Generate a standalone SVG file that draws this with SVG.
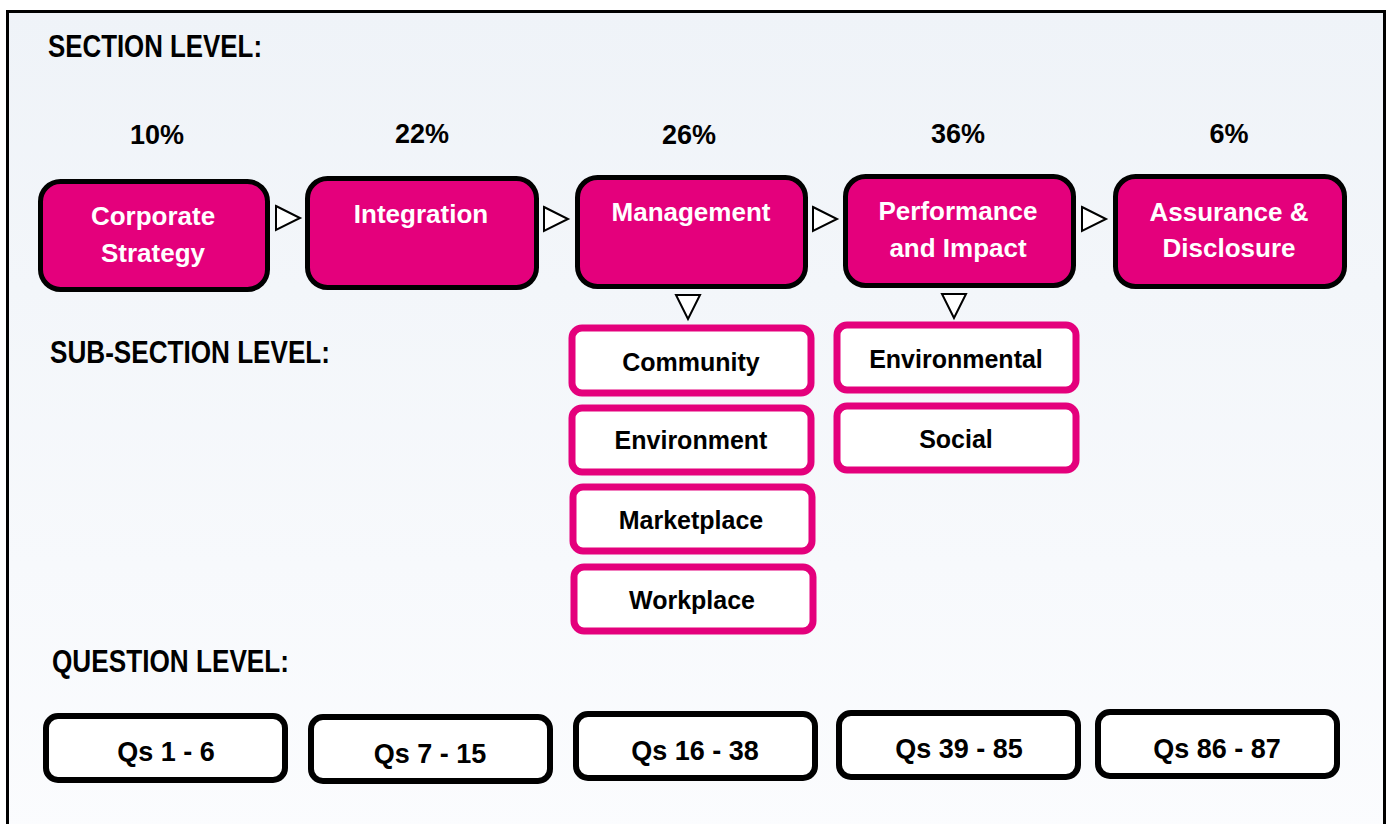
<svg xmlns="http://www.w3.org/2000/svg" width="1388" height="824" viewBox="0 0 1388 824">
<defs>
<linearGradient id="bg" x1="0" y1="0" x2="0" y2="1">
<stop offset="0" stop-color="#eff3f8"/>
<stop offset="1" stop-color="#fbfcfe"/>
</linearGradient>
<style>
.sec{fill:#e4007c;stroke:#000;stroke-width:5}
.sub{fill:#fff;stroke:#e4007c;stroke-width:7}
.q{fill:#fff;stroke:#000;stroke-width:6}
.tri{fill:#fff;stroke:#000;stroke-width:2;stroke-linejoin:miter}
.lvl{font-family:"Liberation Sans",Arial,sans-serif;font-weight:bold;font-size:31px;fill:#000}
.pct{font-family:"Liberation Sans",Arial,sans-serif;font-weight:bold;font-size:27px;fill:#000;text-anchor:middle}
.wt{font-family:"Liberation Sans",Arial,sans-serif;font-weight:bold;font-size:26px;fill:#fff;text-anchor:middle}
.bt{font-family:"Liberation Sans",Arial,sans-serif;font-weight:bold;font-size:25px;fill:#000;text-anchor:middle}
.qt{font-family:"Liberation Sans",Arial,sans-serif;font-weight:bold;font-size:27px;fill:#000;text-anchor:middle}
</style>
</defs>
<rect x="0" y="0" width="1388" height="824" fill="#fff"/>
<rect x="7.5" y="11.5" width="1377" height="830" fill="url(#bg)" stroke="#000" stroke-width="3"/>

<text class="lvl" x="48" y="57" textLength="214" lengthAdjust="spacingAndGlyphs">SECTION LEVEL:</text>
<text class="lvl" x="50" y="363" textLength="280" lengthAdjust="spacingAndGlyphs">SUB-SECTION LEVEL:</text>
<text class="lvl" x="52" y="672" textLength="237" lengthAdjust="spacingAndGlyphs">QUESTION LEVEL:</text>

<g id="pcts">
<text class="pct" x="157" y="144">10%</text>
<text class="pct" x="422" y="143">22%</text>
<text class="pct" x="689" y="144">26%</text>
<text class="pct" x="958" y="143">36%</text>
<text class="pct" x="1229" y="143">6%</text>
</g>

<g id="connectors">
<polygon class="tri" points="276,206 300,218 276,230"/>
<polygon class="tri" points="544,207 568,219 544,231"/>
<polygon class="tri" points="813,207 837,219 813,231"/>
<polygon class="tri" points="1082,207 1106,219 1082,231"/>
<polygon class="tri" points="676,295 700,295 688,319"/>
<polygon class="tri" points="942,294 966,294 954,318"/>
</g>

<g id="corporate-strategy">
<rect class="sec" x="40.5" y="181.5" width="227" height="108" rx="20"/>
<text class="wt" x="153" y="225">Corporate</text>
<text class="wt" x="153" y="262">Strategy</text>
</g>
<g id="integration">
<rect class="sec" x="307.5" y="178.5" width="229" height="109" rx="20"/>
<text class="wt" x="421" y="223">Integration</text>
</g>
<g id="management">
<rect class="sec" x="577.5" y="177.5" width="228" height="109" rx="20"/>
<text class="wt" x="691" y="221">Management</text>
</g>
<g id="performance">
<rect class="sec" x="845.5" y="176.5" width="228" height="109" rx="20"/>
<text class="wt" x="958" y="220">Performance</text>
<text class="wt" x="958" y="257">and Impact</text>
</g>
<g id="assurance">
<rect class="sec" x="1115.5" y="176.5" width="229" height="110" rx="20"/>
<text class="wt" x="1229" y="221">Assurance &amp;</text>
<text class="wt" x="1229" y="257">Disclosure</text>
</g>

<g id="community">
<rect class="sub" x="572" y="328" width="239" height="65" rx="10"/>
<text class="bt" x="691" y="371">Community</text>
</g>
<g id="environment">
<rect class="sub" x="572" y="408" width="239" height="64" rx="10"/>
<text class="bt" x="691" y="449">Environment</text>
</g>
<g id="marketplace">
<rect class="sub" x="573" y="487" width="239" height="64" rx="10"/>
<text class="bt" x="691" y="529">Marketplace</text>
</g>
<g id="workplace">
<rect class="sub" x="574" y="567" width="239" height="64" rx="10"/>
<text class="bt" x="692" y="609">Workplace</text>
</g>
<g id="environmental">
<rect class="sub" x="837" y="325" width="239" height="65" rx="10"/>
<text class="bt" x="956" y="368">Environmental</text>
</g>
<g id="social">
<rect class="sub" x="837" y="406" width="239" height="64" rx="10"/>
<text class="bt" x="956" y="448">Social</text>
</g>

<g id="qs1">
<rect class="q" x="46" y="716" width="239" height="64" rx="12"/>
<text class="qt" x="166" y="761">Qs 1 - 6</text>
</g>
<g id="qs2">
<rect class="q" x="311" y="717" width="239" height="64" rx="12"/>
<text class="qt" x="430" y="763">Qs 7 - 15</text>
</g>
<g id="qs3">
<rect class="q" x="576" y="714" width="239" height="64" rx="12"/>
<text class="qt" x="695" y="760">Qs 16 - 38</text>
</g>
<g id="qs4">
<rect class="q" x="839" y="713" width="239" height="64" rx="12"/>
<text class="qt" x="959" y="758">Qs 39 - 85</text>
</g>
<g id="qs5">
<rect class="q" x="1098" y="712" width="239" height="64" rx="12"/>
<text class="qt" x="1217" y="758">Qs 86 - 87</text>
</g>
</svg>
